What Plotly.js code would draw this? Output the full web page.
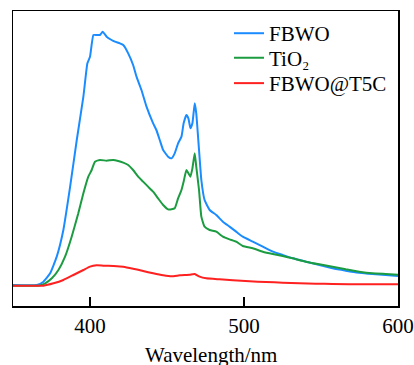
<!DOCTYPE html>
<html><head><meta charset="utf-8">
<script src="https://cdn.plot.ly/plotly-3.0.1.min.js"></script>
<style>html,body{margin:0;padding:0;background:#fff}#chart{width:414px;height:365px}</style>
</head><body><div id="chart"></div>
<script>
const seriesNames = ["FBWO", "TiO₂", "FBWO@T5C"];
const fbwoX = [350,365.5,369.8,374.1,378.4,382.7,387.1,391.4,395.7,398.3,400,402.2,404.3,406.5,408.2,410.8,414,416.2,419.4,421.6,424.8,428,430.2,433.4,436.7,441,443.1,445.3,447.5,450.7,452.9,455,457.2,459.4,460.8,462.6,463.9,465.2,466.5,468,469,470.8,472.3,474.4,477.7,482,486.3,490.6,494.9,499.2,505.7,512.2,518.7,525.1,531.6,540.2,548.9,557.5,566.1,574.8,583.4,592,600];
const fbwoY = [2,2,12,37,87,167,297,437,567,667,687,752,752,752,762,747,737,732,727,722,697,662,627,587,537,487,467,437,407,387,382,397,427,447,487,512,502,472,487,547,517,407,317,257,227,212,192,177,162,147,132,117,102,92,82,72,62,52,45,39,35,32,29];
const tio2X = [350,366.6,370.9,375.2,379.5,383.8,388.1,392.4,395.7,398.9,401.1,403.2,406.5,410.8,415.1,418.3,421.6,424.8,428,431.3,434.5,437.7,441,444.2,447.5,450.7,452.9,455,457.2,459.4,460.8,462.6,463.9,465.2,466.5,468,469,470.8,472.3,474.4,477.7,482,486.3,490.6,494.9,499.2,505.7,512.2,518.7,525.1,531.6,540.2,548.9,557.5,566.1,574.8,583.4,592,600];
const tio2Y = [0,0,7,22,47,87,147,217,277,327,347,372,377,375,377,374,369,362,347,327,312,297,282,262,242,229,229,232,262,287,312,347,337,327,352,397,357,287,207,177,167,162,147,139,132,119,112,102,95,89,82,72,64,57,49,42,37,35,33];
const t5cX = [350,369.8,376.3,382.7,389.2,395.7,400,404.3,408.6,415.1,421.6,428,434.5,441,447.5,452.9,458.3,464.7,468,471.2,475.5,484.1,492.8,503.6,514.3,525.1,535.9,546.7,557.5,579,600];
const t5cY = [0,0,7,17,32,47,57,61,60,59,57,51,44,37,31,28,31,33,35,27,22,19,16,13,11,9,7,6,5,4,4];
const xTicks = [400, 500, 600];
const xTitle = "Wavelength/nm";
const colors = ["#1a8cff", "#1c9c40", "#ff2020"];

const xs = [fbwoX, tio2X, t5cX], ys = [fbwoY, tio2Y, t5cY];
const legendIds = ["legend", "legend2", "legend3"];
const traces = seriesNames.map((n, i) => ({
  x: xs[i], y: ys[i], name: n, type: "scatter", mode: "lines", legend: legendIds[i],
  line: {color: colors[i], width: 2, shape: "spline", smoothing: 0.4}
}));
const fam = "Liberation Serif";
const f = s => ({family: fam, size: s, color: "#000"});
const leg = y => ({x: 0.561, y: y, xanchor: "left", yanchor: "top", bgcolor: "rgba(0,0,0,0)", font: f(21)});
Plotly.newPlot("chart", traces, {
  width: 414, height: 365,
  margin: {l: 13, r: 16, t: 11, b: 59},
  paper_bgcolor: "#fff", plot_bgcolor: "#fff",
  font: f(21),
  showlegend: true,
  legend: leg(0.993), legend2: leg(0.910), legend3: leg(0.8238),
  annotations: [{text: xTitle, xref: "paper", yref: "paper", x: 0.514, y: -0.117,
    xanchor: "center", yanchor: "top", showarrow: false, font: f(21)}],
  xaxis: {range: [350, 600], tickvals: xTicks, ticktext: xTicks.map(String),
    ticks: "inside", ticklen: 9, tickwidth: 1.2, tickcolor: "#000",
    showline: true, linecolor: "#000", linewidth: 1.5, mirror: true,
    showgrid: false, zeroline: false,
    tickfont: f(21)},
  yaxis: {range: [-61, 824], showticklabels: false, ticks: "",
    showline: true, linecolor: "#000", linewidth: 1.5, mirror: true,
    showgrid: false, zeroline: false}
}, {staticPlot: true, displayModeBar: false});
</script></body></html>
